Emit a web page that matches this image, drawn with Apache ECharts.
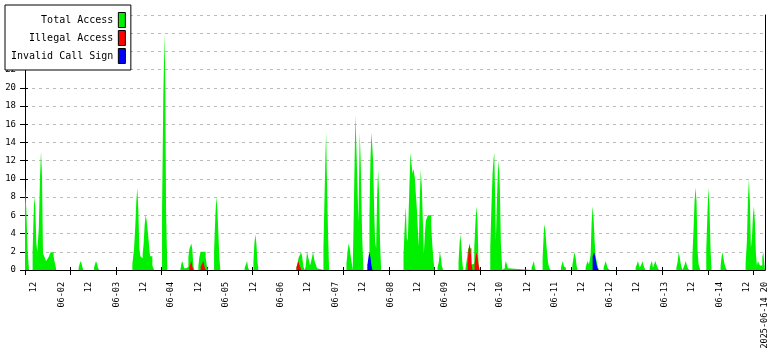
<!DOCTYPE html>
<html>
<head>
<meta charset="utf-8">
<script src="https://cdn.jsdelivr.net/npm/echarts@6/dist/echarts.min.js"></script>
<style>
html,body{margin:0;padding:0;background:#fff;}
#chart{width:780px;height:350px;}
</style>
</head>
<body>
<div id="chart"></div>
<script>
// x values are hours since 2025-06-01 00:00; each [hour, value] pair holds until the next pair
const seriesNames = ['Total Access', 'Illegal Access', 'Invalid Call Sign'];

const totalAccess = [
[8.0,9.0],[8.57,6.7],[9.14,2.2],[9.75,0],
[11.33,2.0],[11.77,6.0],[12.07,8.05],[12.51,6.9],[12.95,3.0],[13.39,2.0],[14.04,4.6],[14.57,10.2],[15.01,13.0],[15.45,10.2],[15.88,1.8],[16.58,1.4],[17.2,1.0],[18.07,1.3],[18.64,1.6],[19.21,1.95],[20.53,1.5],[20.96,0.9],[21.4,0.4],[21.71,0],
[31.48,0.25],[31.91,0.65],[32.35,1.0],[32.79,0.65],[33.23,0.25],[33.54,0],
[38.22,0.25],[38.66,0.65],[39.1,1.0],[39.54,0.65],[39.97,0.25],[40.41,0],
[55.0,0.65],[55.74,2.3],[56.31,4.95],[56.75,7.6],[57.19,9.0],[57.63,6.55],[58.06,2.4],[58.5,1.5],[59.07,1.3],[59.51,1.75],[59.95,2.9],[60.39,4.95],[60.83,6.05],[61.26,5.4],[61.7,4.4],[62.14,3.2],[62.75,1.5],[63.76,0.5],[64.5,0],
[68.0,6.5],[68.58,19.5],[69.14,26.0],[69.45,19.5],[69.76,6.5],[70.33,0],
[76.02,0.2],[76.46,0.7],[76.9,1.0],[77.34,0.5],[77.77,0.2],[78.65,0],
[79.09,0.35],[79.53,1.4],[79.97,2.3],[80.41,2.6],[80.85,2.9],[81.28,2.2],[81.72,0.4],[82.16,0],
[83.9,0.4],[84.34,1.4],[84.91,2.0],[87.1,1.4],[87.71,0.3],[88.15,0],
[90.78,2.0],[91.35,6.0],[91.79,8.05],[92.23,6.6],[92.67,4.0],[93.1,1.35],[93.54,0],
[104.18,0.25],[104.8,0.65],[105.24,1.0],[105.67,0.25],[106.11,0],
[108.0,0.85],[108.43,2.9],[108.87,3.9],[109.31,2.9],[109.75,1.0],[110.19,0],
[126.83,0.3],[127.27,0.7],[127.84,1.4],[128.45,1.7],[128.89,1.95],[129.33,1.5],[129.9,0.35],[130.47,0],
[130.91,0.45],[131.48,2.0],[131.92,1.5],[132.36,1.0],[132.79,0.5],[133.23,0.9],[133.67,1.4],[134.11,2.0],[134.54,1.3],[134.98,0.8],[135.42,0.55],[135.86,0.2],[136.47,0],
[138.66,2.4],[139.1,7.5],[139.54,12.55],[139.84,15.1],[140.1,11.2],[140.72,3.7],[141.15,0],
[148.73,0.65],[149.3,2.2],[149.74,2.9],[150.18,2.4],[150.61,1.5],[151.23,0.5],[151.49,0],
[151.8,4.2],[152.37,12.7],[152.68,17.0],[152.98,14.5],[153.55,9.45],[153.99,5.2],[154.56,15.1],[155.0,11.7],[155.61,3.8],[156.18,0],
[157.93,0.65],[158.81,6.0],[159.24,12.0],[159.68,15.1],[159.99,13.9],[160.42,12.0],[160.86,6.7],[161.3,3.1],[161.74,2.4],[162.18,8.2],[162.61,11.0],[163.05,8.2],[163.49,2.75],[163.93,0],
[173.73,1.65],[174.3,5.1],[174.73,7.0],[175.17,3.5],[175.61,3.2],[176.35,9.6],[176.79,12.9],[177.1,12.0],[177.67,10.6],[178.11,11.1],[178.68,10.1],[179.11,8.4],[179.55,6.8],[179.99,4.5],[180.43,2.6],[180.87,8.1],[181.3,11.0],[181.74,9.15],[182.18,5.5],[182.62,1.8],[183.06,3.8],[183.49,5.4],[183.93,5.7],[184.37,6.0],[185.86,4.9],[186.3,2.9],[186.87,1.0],[187.31,0],
[188.62,0.25],[189.19,0.9],[189.63,1.95],[190.07,1.4],[190.5,0.45],[191.12,0],
[197.82,0.9],[198.26,2.85],[198.56,3.9],[199.0,2.9],[199.44,0.9],[199.88,0],
[200.76,0.2],[201.19,0.75],[201.63,1.45],[202.07,2.4],[203.52,0.6],[204.08,0.7],[204.7,2.4],[205.27,5.5],[205.71,7.0],[206.14,5.3],[206.58,0.55],[207.02,0],
[211.71,2.45],[212.28,7.4],[212.72,10.6],[213.15,12.15],[213.46,12.9],[213.72,9.6],[214.16,3.2],[214.6,7.3],[215.04,10.8],[215.47,12.0],[215.91,9.0],[216.35,3.0],[216.96,0],
[217.53,0.2],[218.1,0.5],[218.54,1.0],[218.98,0.6],[219.42,0.2],[219.86,0],
[229.8,0.25],[230.37,0.65],[230.81,1.0],[231.25,0.25],[231.68,0],
[234.62,1.2],[235.06,3.65],[235.36,5.05],[235.8,4.3],[236.24,2.9],[236.68,1.65],[237.12,0.65],[237.55,0.25],[238.12,0],
[242.64,0.25],[243.07,0.65],[243.51,1.0],[243.95,0.4],[244.39,0.25],[244.83,0],
[247.63,0.5],[248.2,1.4],[248.64,1.95],[249.07,1.4],[249.51,0.5],[249.95,0],
[253.46,0.25],[253.89,0.65],[254.33,1.0],[254.9,0.6],[255.65,1.65],[256.09,5.2],[256.53,7.0],[256.96,5.65],[257.4,3.2],[257.84,1.5],[258.71,0.5],[259.15,0],
[261.34,0.25],[261.78,0.6],[262.22,1.0],[262.66,0.6],[263.09,0.25],[263.84,0],
[275.36,0.25],[275.8,0.55],[276.37,1.0],[277.11,0.25],[277.86,0.6],[278.3,1.0],[278.73,0.55],[279.17,0.25],[279.74,0],
[281.49,0.25],[282.06,0.75],[282.5,1.0],[282.94,0.25],[283.37,0.55],[283.99,1.0],[284.56,0.55],[285.0,0.25],[285.57,0],
[293.19,0.25],[293.76,0.9],[294.2,1.95],[294.64,1.45],[295.07,0.75],[295.51,0.25],[295.95,0],
[296.26,0.25],[296.83,0.6],[297.26,1.0],[297.7,0.6],[298.14,0.25],[298.71,0],
[300.2,1.45],[300.71,4.4],[301.15,7.5],[301.59,9.05],[302.03,7.5],[302.46,2.2],[302.9,0.65],[303.65,0],
[306.28,2.2],[306.85,6.65],[307.29,9.05],[307.73,6.65],[308.17,2.2],[308.6,0],
[312.55,0.45],[312.99,1.45],[313.43,1.95],[313.87,1.2],[314.3,0.65],[314.74,0.25],[315.31,0],
[323.51,0.65],[324.08,3.2],[324.52,7.7],[324.95,9.95],[325.39,7.5],[325.83,2.45],[326.27,3.45],[326.71,5.85],[327.14,7.0],[327.58,5.3],[328.02,1.75],[328.46,0.5],[328.9,1.0],[329.33,0.75],[329.77,0.5],[330.82,1.45],[331.26,1.95],[332,1.95]
];

const illegalAccess = [
[8,0],
[79.97,0.35],[80.41,0.7],[80.85,1.0],[81.28,0.35],[81.72,0],
[84.91,0.35],[85.53,0.7],[86.1,1.0],[86.53,0.4],[87.1,0],
[126.83,0.25],[127.27,0.65],[127.71,1.0],[128.15,0.55],[129.02,0],
[201.76,0.65],[202.2,2.2],[202.64,2.9],[203.08,2.2],[203.52,0.65],[203.95,0],
[204.83,0.65],[205.27,1.45],[205.71,1.95],[206.14,1.45],[206.58,0.6],[207.02,0],
[332,0]
];

const invalidCallSign = [
[8,0],
[157.93,0.55],[158.37,1.4],[158.81,2.0],[159.24,1.4],[159.68,0.5],[160.12,0],
[256.53,1.45],[257.09,1.95],[257.53,1.65],[258.14,0.75],[258.58,0.25],[259.15,0],
[332,0]
];

const seriesColors = ['#00f000', '#ff0000', '#0000ff'];

const xTickHours = [8, 27.93, 47.86, 67.79, 87.72, 107.65, 127.58, 147.51, 167.44, 187.37, 207.3, 227.23, 247.16, 267.09, 287.02, 306.95, 326.88];
const xLabelHours = [12, 24, 36, 48, 60, 72, 84, 96, 108, 120, 132, 144, 156, 168, 180, 192, 204, 216, 228, 240, 252, 264, 276, 288, 300, 312, 324, 332];
const xLabelTexts = ['12','06-02','12','06-03','12','06-04','12','06-05','12','06-06','12','06-07','12','06-08','12','06-09','12','06-10','12','06-11','12','06-12','12','06-13','12','06-14','12','2025-06-14 20'];

const yMax = 28, yStep = 2;
const xMin = 8, xMax = 332;

const MONO = "'DejaVu Sans Mono', monospace";

// each value holds until the next breakpoint: add the corner points of the step
function toSteps(pairs) {
  const out = [];
  for (let i = 0; i < pairs.length; i++) {
    out.push([pairs[i][0], pairs[i][1]]);
    const nextX = i + 1 < pairs.length ? pairs[i + 1][0] : xMax;
    if (nextX > pairs[i][0]) out.push([nextX, pairs[i][1]]);
  }
  return out;
}

const chart = echarts.init(document.getElementById('chart'), null, {renderer: 'canvas'});

const allData = [totalAccess, illegalAccess, invalidCallSign];

function xLabelFormatter(v) {
  const i = xLabelHours.findIndex(function (h) { return Math.abs(h - v) < 0.01; });
  return i >= 0 ? xLabelTexts[i] : '';
}

chart.setOption({
  animation: false,
  backgroundColor: '#ffffff',
  grid: {left: 25, right: 15, top: 15, bottom: 80, containLabel: false, outerBoundsMode: 'none'},
  legend: {
    orient: 'vertical',
    left: 5, top: 5,
    align: 'right',
    itemWidth: 7, itemHeight: 15, itemGap: 2,
    padding: [7, 5, 6, 6],
    backgroundColor: '#ffffff',
    borderColor: '#000000', borderWidth: 1, borderRadius: 0,
    selectedMode: false,
    textStyle: {fontFamily: MONO, fontSize: 10, color: '#000'},
    formatter: function (n) { return n.padStart(17, '\u00a0'); },
    data: seriesNames.map(function (n, i) {
      return {name: n, icon: 'rect', itemStyle: {color: seriesColors[i], borderColor: '#000', borderWidth: 1}};
    })
  },
  xAxis: [{
    type: 'value', min: xMin, max: xMax, position: 'bottom',
    axisLine: {show: true, onZero: false, lineStyle: {color: '#000', width: 1}},
    axisTick: {show: true, length: 5, lineStyle: {color: '#000'}, customValues: xTickHours},
    axisLabel: {
      show: true, rotate: 90, margin: 12, customValues: xLabelHours,
      fontFamily: MONO, fontSize: 8.5, color: '#000',
      formatter: xLabelFormatter
    },
    splitLine: {show: false}
  }, {
    type: 'value', min: xMin, max: xMax, position: 'bottom', offset: 0,
    axisLine: {show: false, onZero: false},
    axisTick: {show: true, inside: true, length: 3, lineStyle: {color: '#000'}, customValues: xTickHours},
    axisLabel: {show: false},
    splitLine: {show: false}
  }],
  yAxis: [{
    type: 'value', min: 0, max: yMax, interval: yStep, position: 'left',
    axisLine: {show: true, lineStyle: {color: '#000', width: 1}},
    axisTick: {show: true, length: 5, lineStyle: {color: '#000'}},
    axisLabel: {margin: 9, fontFamily: MONO, fontSize: 9, color: '#000'},
    splitLine: {show: true, lineStyle: {color: '#bbbbbb', type: [3, 4], width: 1}}
  }, {
    type: 'value', min: 0, max: yMax, interval: yStep, position: 'right',
    axisLine: {show: true, lineStyle: {color: '#000', width: 1}},
    axisTick: {show: false}, axisLabel: {show: false}, splitLine: {show: false}
  }, {
    type: 'value', min: 0, max: yMax, interval: yStep, position: 'left', offset: 0,
    axisLine: {show: false},
    axisTick: {show: true, inside: true, length: 3, lineStyle: {color: '#000'}},
    axisLabel: {show: false}, splitLine: {show: false}
  }],
  series: allData.map(function (d, i) {
    return {
      name: seriesNames[i], type: 'line', data: toSteps(d),
      xAxisIndex: 0, yAxisIndex: 0,
      showSymbol: false, symbol: 'none', silent: true,
      color: seriesColors[i],
      lineStyle: {width: 0, color: seriesColors[i]},
      areaStyle: {color: seriesColors[i], opacity: 1},
      z: 2 + i
    };
  })
});
</script>
</body>
</html>
